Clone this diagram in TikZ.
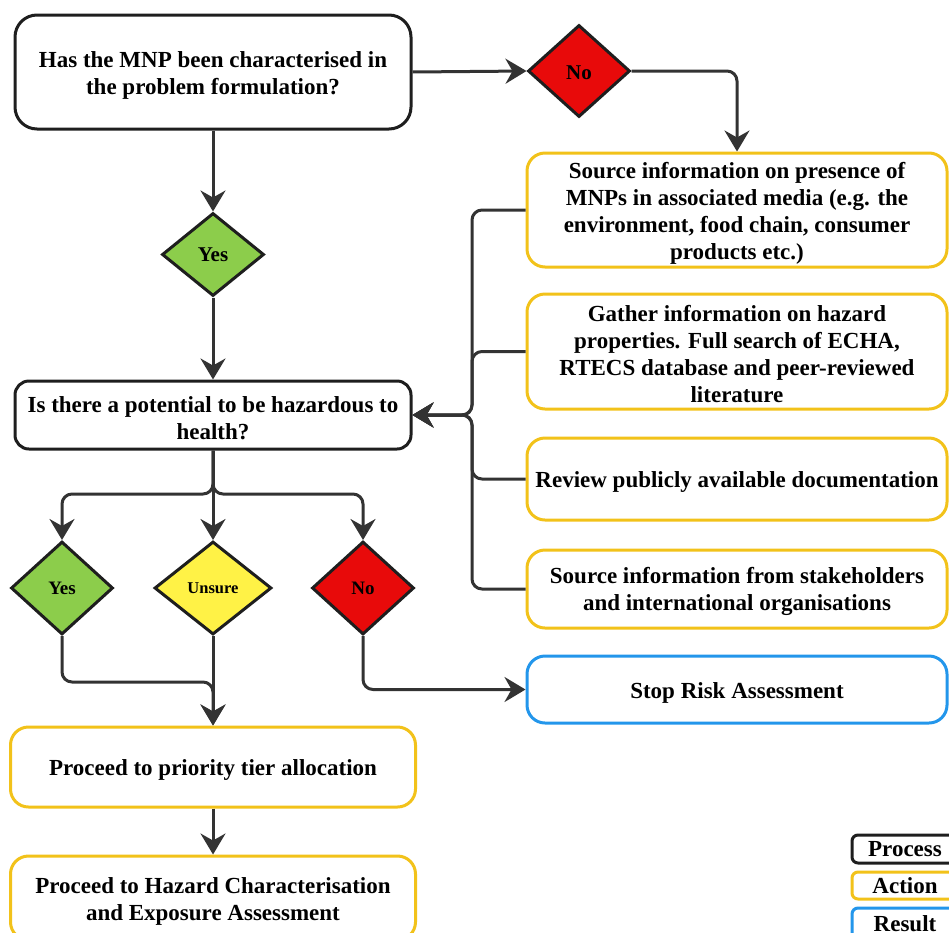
\documentclass[tikz,border=0pt]{standalone}
\usepackage{fontspec}
\setmainfont{Liberation Serif}[BoldFont={Liberation Serif Bold}]
\usetikzlibrary{shapes.geometric,arrows.meta}
\definecolor{procc}{RGB}{30,30,30}
\definecolor{actc}{RGB}{242,194,26}
\definecolor{resc}{RGB}{35,150,235}
\definecolor{arrc}{RGB}{51,51,51}
\definecolor{greenc}{RGB}{140,205,75}
\definecolor{yelc}{RGB}{255,242,70}
\definecolor{redc}{RGB}{232,10,10}
\newcommand\tp{\rule{0pt}{22pt}}
\begin{document}
\begin{tikzpicture}[x=1pt,y=-1pt,
  base/.style={rectangle, rounded corners=18pt, line width=3pt, fill=white, align=center, inner sep=0pt, font=\fontsize{23}{27}\selectfont\bfseries},
  procbox/.style={base, draw=procc},
  actbox/.style={base, draw=actc},
  resbox/.style={base, draw=resc},
  legbox/.style={base, rounded corners=6pt},
  dia/.style={diamond, draw=procc, line width=3pt, inner sep=0pt},
  bigdia/.style={dia, font=\fontsize{21}{25}\selectfont\bfseries},
  smalldia/.style={dia, font=\fontsize{19}{23}\selectfont\bfseries},
  conn/.style={draw=arrc, line width=3pt, rounded corners=10pt, -{Stealth[length=21pt,width=25pt,inset=7pt]}}
]
\useasboundingbox (0,0) rectangle (949,932);
\clip (0,0) rectangle (949,932);

% process boxes
\node[procbox, minimum width=396pt, minimum height=114pt, rounded corners=22pt] (q1) at (213,72) {\tp Has the MNP been characterised in\\the problem formulation?};
\node[procbox, minimum width=396pt, minimum height=68pt, rounded corners=14pt] (haz) at (213,415) {\tp Is there a potential to be hazardous to\\health?};

% diamonds
\node[bigdia, fill=redc, minimum width=102pt, minimum height=92pt] (no1) at (579,71) {\rule{0pt}{17pt}No};
\node[bigdia, fill=greenc, minimum width=102pt, minimum height=83pt] (y1) at (213,254.5) {Yes};
\node[smalldia, fill=greenc, minimum width=102pt, minimum height=93pt] (y2) at (62,588) {Yes};
\node[dia, fill=yelc, minimum width=117pt, minimum height=93pt, font=\fontsize{16.5}{20}\selectfont\bfseries] (un) at (213,588) {Unsure};
\node[smalldia, fill=redc, minimum width=102pt, minimum height=93pt] (no2) at (363,588) {No};

% action boxes
\node[actbox, minimum width=420pt, minimum height=114pt] (s1) at (737,210) {\tp Source information on presence of\\MNPs in associated media (e.g. the\\environment, food chain, consumer\\products etc.)};
\node[actbox, minimum width=420pt, minimum height=115pt] (s2) at (737,351.5) {\tp Gather information on hazard\\properties. Full search of ECHA,\\RTECS database and peer-reviewed\\literature};
\node[actbox, minimum width=420pt, minimum height=82pt] (s3) at (737,479) {\tp Review publicly available documentation};
\node[actbox, minimum width=420pt, minimum height=78pt] (s4) at (737,589) {\tp Source information from stakeholders\\and international organisations};
\node[resbox, minimum width=420pt, minimum height=67pt] (stop) at (737,689.5) {\tp Stop Risk Assessment};
\node[actbox, minimum width=405pt, minimum height=80pt] (p1) at (213,767) {\tp Proceed to priority tier allocation};
\node[actbox, minimum width=405pt, minimum height=84pt] (p2) at (213,898) {\tp Proceed to Hazard Characterisation\\and Exposure Assessment};

% legend
\node[legbox, draw=procc, minimum width=106pt, minimum height=28pt] (lp) at (905,849) {Process};
\node[legbox, draw=actc, minimum width=106pt, minimum height=27pt] (la) at (905,885.5) {Action};
\node[legbox, draw=resc, minimum width=106pt, minimum height=32pt] (lr) at (905,924) {Result};

% bend points
\coordinate (bx) at (472,415);
\coordinate (hb) at (213,494);
\coordinate (yb) at (62,682);

% connectors
\draw[conn] (q1.east) -- (no1.west);
\draw[conn] (no1.east) -| (s1.north);
\draw[conn] (q1.south) -- (y1.north);
\draw[conn] (y1.south) -- (haz.north);
\draw[conn] (s1.west) -| (bx) -- (haz.east);
\draw[conn] (s2.west) -| (bx) -- (haz.east);
\draw[conn] (s3.west) -| (bx) -- (haz.east);
\draw[conn] (s4.west) -| (bx) -- (haz.east);
\draw[conn] (haz.south) -- (hb) -| (y2.north);
\draw[conn] (haz.south) -- (un.north);
\draw[conn] (haz.south) -- (hb) -| (no2.north);
\draw[conn] (y2.south) -- (yb) -| (p1.north);
\draw[conn] (un.south) -- (p1.north);
\draw[conn] (no2.south) |- (stop.west);
\draw[conn] (p1.south) -- (p2.north);
\end{tikzpicture}
\end{document}
